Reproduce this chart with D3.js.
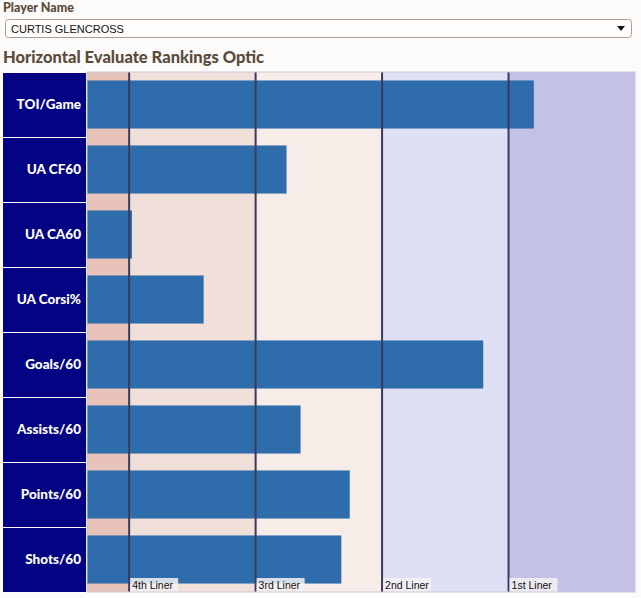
<!DOCTYPE html>
<html>
<head>
<meta charset="utf-8">
<script src="https://cdn.jsdelivr.net/npm/d3@7"></script>
<style>
  body { margin: 0; background: #fdfbfa; }
  svg { display: block; }
</style>
</head>
<body>
<svg id="chart"></svg>
<script>
// data
const playerName = "CURTIS GLENCROSS";
const chartTitle = "Horizontal Evaluate Rankings Optic";
const categories = ["TOI/Game", "UA CF60", "UA CA60", "UA Corsi%", "Goals/60", "Assists/60", "Points/60", "Shots/60"];
const values = [318, 142, 32, 83, 282, 152, 187, 181];
const bandBreaks = [0, 30, 120, 210, 300, 390];
const tierLabels = ["4th Liner", "3rd Liner", "2nd Liner", "1st Liner"];
const bandColors = ["#e8c3b9", "#f1dfda", "#f8ece9", "#dfdff5", "#c3c1e6"];

var wtot = 641, htot = 598;
var margin = { top: 72, right: 6, bottom: 6, left: 87 };

const svg = d3.select("#chart")
    .attr("width", wtot)
    .attr("height", htot)
    .style("font-family", "Arial, 'Liberation Sans', sans-serif");

// header: player name select
svg.append("text")
    .attr("x", 3).attr("y", 12)
    .attr("fill", "#5b4b3c")
    .style("font-family", "Lato, sans-serif")
    .style("font-size", "12.5px").style("font-weight", "900")
    .text("Player Name");

svg.append("rect")
    .attr("x", 5.5).attr("y", 19.5)
    .attr("width", 626).attr("height", 18)
    .attr("rx", 3)
    .attr("fill", "#fefdfc")
    .attr("stroke", "#a89f99");

svg.append("text")
    .attr("x", 11).attr("y", 33)
    .attr("fill", "#111")
    .style("font-size", "11px")
    .text(playerName);

svg.append("path")
    .attr("d", "M617,26 h8 l-4,5 z")
    .attr("fill", "#111");

svg.append("text")
    .attr("x", 3).attr("y", 63)
    .attr("fill", "#5b4b3c")
    .style("font-family", "Lato, sans-serif")
    .style("font-size", "16.5px").style("font-weight", "900")
    .text(chartTitle);

// scales
const xScale = d3.scaleLinear([0, 390], [margin.left, wtot - margin.right]);
const yScale = d3.scaleBand(categories, [margin.top, htot - margin.bottom])
    .paddingInner(0.26)
    .paddingOuter(0.13);
const rowScale = d3.scaleBand(categories, [margin.top, htot - margin.bottom]);

// background tiers
svg.append("g")
    .selectAll("rect")
    .data(d3.range(bandColors.length))
    .join("rect")
    .attr("x", i => xScale(bandBreaks[i]))
    .attr("width", i => xScale(bandBreaks[i + 1]) - xScale(bandBreaks[i]))
    .attr("y", margin.top)
    .attr("height", htot - margin.bottom - margin.top)
    .attr("fill", i => bandColors[i]);

// bars
svg.append("g")
    .attr("fill", "#2f6cab")
    .selectAll("rect")
    .data(categories)
    .join("rect")
    .attr("x", xScale(0))
    .attr("y", d => yScale(d))
    .attr("width", (d, i) => xScale(values[i]) - xScale(0))
    .attr("height", yScale.bandwidth());

// tier lines
svg.append("g")
    .attr("stroke", "#3b3a5c")
    .attr("stroke-width", 2)
    .selectAll("line")
    .data(bandBreaks.slice(1, 5))
    .join("line")
    .attr("x1", d => xScale(d)).attr("x2", d => xScale(d))
    .attr("y1", margin.top)
    .attr("y2", htot - margin.bottom);

// tier labels
const tier = svg.append("g")
    .selectAll("g")
    .data(tierLabels)
    .join("g")
    .attr("transform", (d, i) => `translate(${xScale(bandBreaks[i + 1]) + 1},${htot - margin.bottom - 14})`);

tier.append("rect")
    .attr("width", 48).attr("height", 14)
    .attr("fill", "#f4f2f2")
    .attr("fill-opacity", 0.85);

tier.append("text")
    .attr("x", 2).attr("y", 11)
    .attr("fill", "#111")
    .style("font-size", "10.5px")
    .text(d => d);

// plot border
svg.append("rect")
    .attr("x", margin.left).attr("y", margin.top)
    .attr("width", wtot - margin.right - margin.left)
    .attr("height", htot - margin.bottom - margin.top)
    .attr("fill", "none")
    .attr("stroke", "#c9c8dc");

// category label column
const labels = svg.append("g");

labels.selectAll("rect")
    .data(categories)
    .join("rect")
    .attr("x", 3)
    .attr("y", d => rowScale(d) + 1)
    .attr("width", margin.left - 4)
    .attr("height", rowScale.bandwidth() - 1)
    .attr("fill", "#030383");

labels.selectAll("text")
    .data(categories)
    .join("text")
    .attr("x", margin.left - 6)
    .attr("y", d => rowScale(d) + rowScale.bandwidth() / 2)
    .attr("dy", "0.35em")
    .attr("text-anchor", "end")
    .attr("fill", "#fff")
    .style("font-size", "13.5px")
    .style("font-weight", "900")
    .style("font-family", "Lato, sans-serif")
    .text(d => d);
</script>
</body>
</html>
